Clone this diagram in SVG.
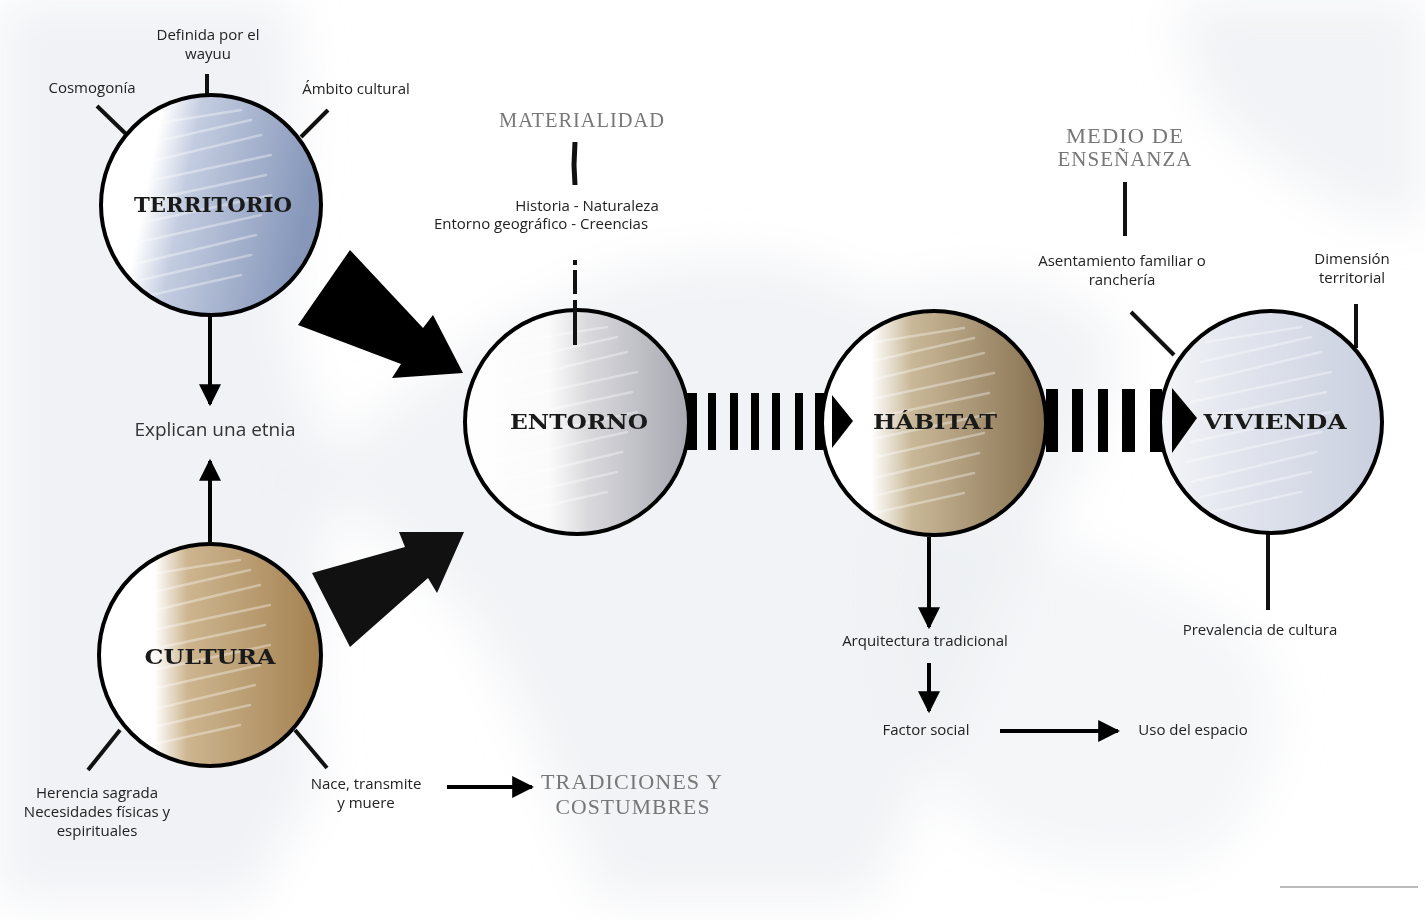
<svg xmlns="http://www.w3.org/2000/svg" width="1425" height="920" viewBox="0 0 1425 920">
<style>
.lbl{font-family:"Open Sans","Noto Sans",sans-serif;font-size:15px;fill:#222;text-anchor:middle}
.big{font-family:"Open Sans","Noto Sans",sans-serif;font-size:19px;fill:#333;text-anchor:middle}
.ttl{font-family:"DejaVu Serif","Liberation Serif",serif;font-weight:bold;font-size:20px;fill:#1a1a1a;text-anchor:middle}
.gry{font-family:"Liberation Serif","DejaVu Serif",serif;font-size:21px;fill:#777;text-anchor:middle;letter-spacing:1px}
.ring{stroke:#000;stroke-width:4;}
.tick{stroke:#111;stroke-width:4;fill:none;stroke-linecap:butt}
.ln{stroke:#000;stroke-width:4;fill:none}
.streak{stroke:#fff;stroke-width:2.5;stroke-linecap:round;opacity:0.35;fill:none}
.bar{fill:#000}
</style>
<defs>
<filter id="blur" x="-30%" y="-30%" width="160%" height="160%"><feGaussianBlur stdDeviation="25"/></filter>
<clipPath id="cc" clipPathUnits="userSpaceOnUse"><circle cx="0" cy="0" r="110"/></clipPath>
<linearGradient id="gTer" x1="0" y1="0" x2="1" y2="0.2">
<stop offset="0" stop-color="#fff"/><stop offset="0.28" stop-color="#fff"/><stop offset="0.45" stop-color="#c3cce0"/><stop offset="1" stop-color="#8697ba"/></linearGradient>
<linearGradient id="gCul" x1="0" y1="0" x2="1" y2="0">
<stop offset="0" stop-color="#fff"/><stop offset="0.25" stop-color="#fff"/><stop offset="0.4" stop-color="#cdb58f"/><stop offset="1" stop-color="#a3804f"/></linearGradient>
<linearGradient id="gEnt" x1="0" y1="0" x2="1" y2="0">
<stop offset="0" stop-color="#fff"/><stop offset="0.38" stop-color="#fafafa"/><stop offset="0.55" stop-color="#d9d9dd"/><stop offset="1" stop-color="#a7a8b0"/></linearGradient>
<linearGradient id="gHab" x1="0" y1="0" x2="1" y2="0">
<stop offset="0" stop-color="#fff"/><stop offset="0.22" stop-color="#fff"/><stop offset="0.4" stop-color="#c9b898"/><stop offset="1" stop-color="#86704f"/></linearGradient>
<linearGradient id="gViv" x1="0" y1="0" x2="1" y2="0">
<stop offset="0" stop-color="#f4f5f8"/><stop offset="0.3" stop-color="#e4e7ef"/><stop offset="1" stop-color="#c9cfdf"/></linearGradient>
<g id="streaks">
<path class="streak" d="M-70,-60 L40,-85 M-75,-40 L50,-70 M-80,-20 L60,-50 M-85,0 L55,-30 M-80,20 L60,-10 M-85,40 L50,10 M-80,60 L45,30 M-70,75 L40,50 M-60,90 L30,70 M-65,-80 L30,-95"/>
</g>
<marker id="ah" viewBox="0 0 10 10" refX="9" refY="5" markerWidth="22" markerHeight="22" markerUnits="userSpaceOnUse" orient="auto">
<path d="M0,0 L10,5 L0,10 Z" fill="#000"/></marker>
</defs>

<rect width="1425" height="920" fill="#fff"/>
<g id="background" filter="url(#blur)">
<path d="M0,0 L290,0 C320,150 250,300 320,420 C350,520 290,650 320,780 L250,900 L0,900 Z" fill="#e6e8ee" opacity="0.55"/>
<path d="M560,300 C650,250 800,240 880,300 C1000,260 1100,290 1120,350 C1100,450 1050,520 1000,600 C960,700 920,800 870,900 L600,900 C560,800 520,700 470,620 C420,560 360,520 300,480 C380,420 470,330 560,300 Z" fill="#e8eaef" opacity="0.55"/>
<path d="M1180,0 L1425,0 L1425,220 C1350,230 1280,170 1220,120 C1190,80 1180,40 1180,0 Z" fill="#e8eaef" opacity="0.55"/>
<path d="M900,520 C1000,520 1150,560 1250,640 C1300,700 1280,800 1200,860 C1100,880 1000,860 950,800 C900,700 880,600 900,520 Z" fill="#eceef2" opacity="0.5"/>
</g>
<line x1="1280" y1="887" x2="1418" y2="887" stroke="#bbb" stroke-width="2"/>

<g id="connectors">
<polygon points="350,250 423,328 433,315 463,373 392,378 401,364 298,325" fill="#000"/>
<polygon points="312,573 405,547 399,532 464,532 437,593 428,578 350,647" fill="#111"/>
<line class="ln" x1="210" y1="313" x2="210" y2="404" marker-end="url(#ah)"/>
<line class="ln" x1="210" y1="542" x2="210" y2="461" marker-end="url(#ah)"/>
<rect class="bar" x="687" y="393" width="10" height="57"/>
<rect class="bar" x="708" y="393" width="8" height="57"/>
<rect class="bar" x="730" y="393" width="8" height="57"/>
<rect class="bar" x="751" y="393" width="8" height="57"/>
<rect class="bar" x="772" y="393" width="8" height="57"/>
<rect class="bar" x="795" y="393" width="8" height="57"/>
<rect class="bar" x="815" y="393" width="10" height="57"/>
<rect class="bar" x="1046" y="389" width="12" height="63"/>
<rect class="bar" x="1072" y="389" width="11" height="63"/>
<rect class="bar" x="1098" y="389" width="10" height="63"/>
<rect class="bar" x="1122" y="389" width="13" height="63"/>
<rect class="bar" x="1150" y="389" width="12" height="63"/>
<line class="ln" x1="929" y1="537" x2="929" y2="627" marker-end="url(#ah)"/>
<line class="ln" x1="929" y1="663" x2="929" y2="711" marker-end="url(#ah)"/>
<line class="ln" x1="1000" y1="731" x2="1118" y2="731" marker-end="url(#ah)"/>
<line class="ln" x1="447" y1="787" x2="532" y2="787" stroke-width="5" marker-end="url(#ah)"/>
<path d="M575,142 L574,165 L575,185" stroke="#111" stroke-width="5" fill="none"/>
<rect x="573" y="260" width="4" height="5" fill="#111"/>
<line class="tick" x1="575" y1="270" x2="575" y2="294" stroke-width="3"/>
<line class="tick" x1="575" y1="300" x2="575" y2="345" stroke-width="3"/>
<line class="tick" x1="1125" y1="182" x2="1125" y2="236"/>
</g>

<g id="territorio">
<line class="tick" x1="207" y1="74" x2="207" y2="98"/>
<line class="tick" x1="97" y1="106" x2="127" y2="135"/>
<line class="tick" x1="328" y1="110" x2="301" y2="137"/>
<g transform="translate(211,205)">
<circle r="110" fill="url(#gTer)"/>
<use href="#streaks" clip-path="url(#cc)"/>
<circle r="110" fill="none" class="ring"/>
</g>
<text class="ttl" x="213" y="212" textLength="158" lengthAdjust="spacingAndGlyphs">TERRITORIO</text>
<text class="lbl" x="208" y="40">Definida por el</text>
<text class="lbl" x="208" y="59">wayuu</text>
<text class="lbl" x="92" y="93">Cosmogonía</text>
<text class="lbl" x="356" y="94">Ámbito cultural</text>
</g>

<g id="explican">
<text class="big" x="215" y="436">Explican una etnia</text>
</g>

<g id="cultura">
<line class="tick" x1="120" y1="730" x2="88" y2="770"/>
<line class="tick" x1="295" y1="730" x2="327" y2="768"/>
<g transform="translate(210,655)">
<circle r="111" fill="url(#gCul)"/>
<use href="#streaks" clip-path="url(#cc)"/>
<circle r="111" fill="none" class="ring"/>
</g>
<text class="ttl" x="210" y="664" textLength="131" lengthAdjust="spacingAndGlyphs">CULTURA</text>
<text class="lbl" x="97" y="798">Herencia sagrada</text>
<text class="lbl" x="97" y="817">Necesidades físicas y</text>
<text class="lbl" x="97" y="836">espirituales</text>
<text class="lbl" x="366" y="789">Nace, transmite</text>
<text class="lbl" x="366" y="808">y muere</text>
</g>

<g id="tradiciones">
<text class="gry" x="632" y="789" textLength="182" lengthAdjust="spacingAndGlyphs">TRADICIONES  Y</text>
<text class="gry" x="633" y="814" textLength="155" lengthAdjust="spacingAndGlyphs">COSTUMBRES</text>
</g>

<g id="materialidad">
<text class="gry" x="582" y="127" textLength="166" lengthAdjust="spacingAndGlyphs">MATERIALIDAD</text>
<text class="lbl" x="587" y="211">Historia - Naturaleza</text>
<text class="lbl" x="541" y="229">Entorno geográfico - Creencias</text>
</g>

<g id="entorno">
<g transform="translate(577,422)">
<circle r="112" fill="url(#gEnt)"/>
<use href="#streaks" clip-path="url(#cc)"/>
<circle r="112" fill="none" class="ring"/>
</g>
<line class="tick" x1="575" y1="308" x2="575" y2="345" stroke-width="3"/>
<text class="ttl" x="579" y="429" textLength="138" lengthAdjust="spacingAndGlyphs">ENTORNO</text>
</g>

<g id="habitat">
<g transform="translate(934,423)">
<circle r="112" fill="url(#gHab)"/>
<use href="#streaks" clip-path="url(#cc)"/>
<circle r="112" fill="none" class="ring"/>
</g>
<polygon points="832,395 853,421 832,448" fill="#000"/>
<text class="ttl" x="935" y="429" textLength="124" lengthAdjust="spacingAndGlyphs">HÁBITAT</text>
<text class="lbl" x="925" y="646">Arquitectura tradicional</text>
<text class="lbl" x="926" y="735">Factor social</text>
<text class="lbl" x="1193" y="735">Uso del espacio</text>
</g>

<g id="medio">
<text class="gry" x="1125" y="143" textLength="118" lengthAdjust="spacingAndGlyphs">MEDIO  DE</text>
<text class="gry" x="1125" y="166" textLength="135" lengthAdjust="spacingAndGlyphs">ENSEÑANZA</text>
</g>

<g id="vivienda">
<line class="tick" x1="1131" y1="312" x2="1174" y2="355"/>
<line class="tick" x1="1356" y1="304" x2="1356" y2="348"/>
<line class="tick" x1="1268" y1="533" x2="1268" y2="610"/>
<g transform="translate(1271,422)">
<circle r="111" fill="url(#gViv)"/>
<use href="#streaks" clip-path="url(#cc)"/>
<circle r="111" fill="none" class="ring"/>
</g>
<polygon points="1172,388 1197,418 1172,453" fill="#000"/>
<text class="ttl" x="1275" y="429" textLength="143" lengthAdjust="spacingAndGlyphs">VIVIENDA</text>
<text class="lbl" x="1122" y="266">Asentamiento familiar o</text>
<text class="lbl" x="1122" y="285">ranchería</text>
<text class="lbl" x="1352" y="264">Dimensión</text>
<text class="lbl" x="1352" y="283">territorial</text>
<text class="lbl" x="1260" y="635">Prevalencia de cultura</text>
</g>
</svg>
